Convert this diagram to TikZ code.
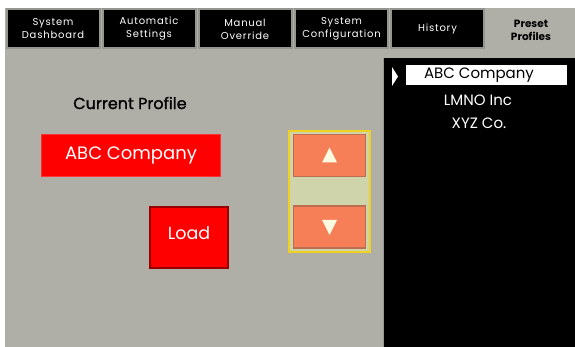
\documentclass[tikz,border=0pt]{standalone}
\usepackage{fontspec}
\setmainfont{Poppins}
\newfontfamily\tabfont[LetterSpace=8]{Poppins}
\newfontfamily\labelfont[FakeBold=1.3]{Poppins}
\usetikzlibrary{positioning}

\definecolor{panelgray}{RGB}{176,175,167}
\definecolor{bevelgray}{RGB}{150,150,145}
\definecolor{alarmred}{RGB}{255,0,0}
\definecolor{loaddark}{RGB}{150,0,0}
\definecolor{btnorange}{RGB}{247,127,87}
\definecolor{btnshade}{RGB}{190,110,80}
\definecolor{framegold}{RGB}{240,208,32}
\definecolor{frameolive}{RGB}{208,212,170}
\definecolor{arrowcream}{RGB}{250,250,224}

\tikzset{
  tabbox/.style={fill=black, draw=bevelgray, line width=2pt, minimum width=93pt, minimum height=39pt,
    text=white, align=center, font=\tabfont\fontsize{10}{13}\selectfont},
  redbox/.style={fill=alarmred, text=white, font=\fontsize{18}{20}\selectfont},
  arrowbtn/.style={fill=btnorange, draw=btnshade, line width=1.5pt, minimum width=72pt, minimum height=42pt},
  listitem/.style={text=white, font=\fontsize{15}{17}\selectfont}
}

\begin{document}
\begin{tikzpicture}[x=1pt, y=-1pt]
    \useasboundingbox (0,0) rectangle (575,347);

    % Screen background
    \fill[panelgray] (5,8) rectangle (575,347);

    % Tabs along the top
    \foreach \n/\x/\t in {dash/53/{System\\Dashboard}, auto/149/{Automatic\\Settings},
        manual/245/{Manual\\Override}, config/341.5/{System\\Configuration}, history/437.5/{History}} {
      \node[tabbox] (tab\n) at (\x,29) {\t};
    }
    \node[align=center, font=\bfseries\fontsize{10.5}{13}\selectfont] (tabpreset) at (531,30) {Preset\\Profiles};

    % Current profile
    \node[font=\labelfont\fontsize{16}{18}\selectfont] (curlabel) at (130,103) {Current Profile};
    \node[redbox, draw=red!80!white, minimum width=179pt, minimum height=42pt] (curprofile) at (131,155.5) {ABC Company};
    \node[fill=alarmred, draw=loaddark, line width=1.5pt, minimum width=78pt, minimum height=61pt] (load) at (189,237.5) {};
    \node[text=white, font=\fontsize{17.5}{20}\selectfont] (loadtext) at (189,233.5) {Load};

    % Up and down buttons
    \node[fill=frameolive, draw=framegold, line width=2pt, minimum width=81pt, minimum height=121pt] (arrowframe) at (329.5,191.5) {};
    \node[arrowbtn] (up) at (329.5,155.5) {};
    \node[arrowbtn] (down) at (329.5,227) {};
    \fill[arrowcream] ([shift={(-7.5,7)}]up.center) -- ([shift={(7.5,7)}]up.center) -- ([shift={(0,-8)}]up.center) -- cycle;
    \fill[arrowcream] ([shift={(-7.5,-7)}]down.center) -- ([shift={(7.5,-7)}]down.center) -- ([shift={(0,8)}]down.center) -- cycle;

    % Profile list
    \fill[black] (383,58) rectangle (575,347);
    \draw[bevelgray] (383,58) -- (383,347);
    \node[fill=white, minimum width=161pt, minimum height=20pt] (selrow) at (486.5,75) {};
    \node[listitem, text=black] (itemabc) at (479,75) {ABC Company};
    \node[listitem] (itemlmno) at (478,100) {LMNO Inc};
    \node[listitem] (itemxyz) at (479,123) {XYZ Co.};
    \fill[white] (392,67) -- (398,76.5) -- (392,86) -- cycle;
\end{tikzpicture}
\end{document}
